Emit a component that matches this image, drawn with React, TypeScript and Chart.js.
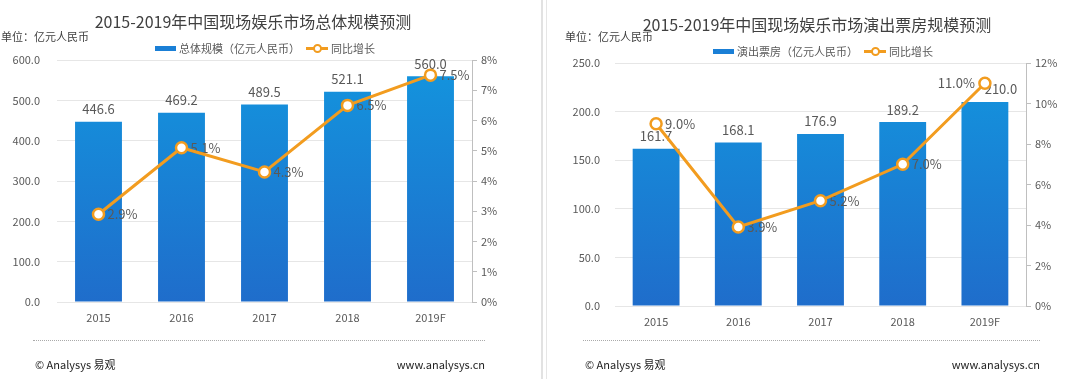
import React, { useEffect, useRef } from 'react';
import { Chart, registerables } from 'chart.js';

Chart.register(...registerables);

const FONT = '"Noto Sans CJK SC", "Noto Sans", sans-serif';

// ---------- data ----------
const categories = ['2015', '2016', '2017', '2018', '2019F'];

const totalMarket = [446.6, 469.2, 489.5, 521.1, 560.0];
const totalGrowth = [2.9, 5.1, 4.3, 6.5, 7.5];

const boxOffice = [161.7, 168.1, 176.9, 189.2, 210.0];
const boxOfficeGrowth = [9.0, 3.9, 5.2, 7.0, 11.0];

const leftAxisA = { max: 600, step: 100 };
const rightAxisA = { max: 8, step: 1 };
const leftAxisB = { max: 250, step: 50 };
const rightAxisB = { max: 12, step: 2 };

const titleA = '2015-2019年中国现场娱乐市场总体规模预测';
const titleB = '2015-2019年中国现场娱乐市场演出票房规模预测';
const barNameA = '总体规模（亿元人民币）';
const barNameB = '演出票房（亿元人民币）';
const lineName = '同比增长';
const unitText = '单位：亿元人民币';
const footLeft = '© Analysys 易观';
const footRight = 'www.analysys.cn';

const BAR_TOP = '#1395de';
const BAR_BOTTOM = '#1f6dcb';
const ORANGE = '#f29c1f';
const TEXT = '#595959';

const labelPlugin = {
  id: 'valueLabels',
  afterDatasetDraw(chart: any, args: any, opts: any) {
    if (args.index !== 0) return;
    const ctx = chart.ctx;
    const barMeta = chart.getDatasetMeta(0);
    const lineMeta = chart.getDatasetMeta(1);
    const bars = chart.data.datasets[0].data;
    const pcts = chart.data.datasets[1].data;
    ctx.save();
    ctx.font = '13px ' + FONT;
    ctx.fillStyle = TEXT;
    barMeta.data.forEach((el: any, i: number) => {
      const dx = (opts.barDx && opts.barDx[i]) || 0;
      ctx.textAlign = 'center';
      ctx.textBaseline = 'bottom';
      ctx.fillText(Number(bars[i]).toFixed(1), el.x + dx, el.y - 6);
    });
    lineMeta.data.forEach((el: any, i: number) => {
      const leftSide = opts.pctLeft && opts.pctLeft[i];
      ctx.textAlign = leftSide ? 'right' : 'left';
      ctx.textBaseline = 'middle';
      ctx.fillText(Number(pcts[i]).toFixed(1) + '%', leftSide ? el.x - 10 : el.x + 9, el.y);
    });
    ctx.restore();
  },
};

type PanelProps = {
  offsetX: number;
  title: string;
  titleCx: number;
  titleCy: number;
  unitX: number;
  legendY: number;
  legendBarX: number;
  legendLineX: number;
  barName: string;
  bars: number[];
  pcts: number[];
  leftAxis: { max: number; step: number };
  rightAxis: { max: number; step: number };
  yWidth: number;
  y1Width: number;
  top: number;
  xHeight: number;
  yPad: number;
  barPct: number;
  barDx?: number[];
  pctLeft?: boolean[];
  footX1: number;
  footX2: number;
};

function Panel(p: PanelProps) {
  const ref = useRef<HTMLCanvasElement>(null);
  useEffect(() => {
    const canvas = ref.current!;
    const chart = new Chart(canvas, {
      type: 'bar',
      data: {
        labels: categories,
        datasets: [
          {
            type: 'bar',
            label: p.barName,
            data: p.bars,
            order: 1,
            yAxisID: 'y',
            categoryPercentage: 1,
            barPercentage: p.barPct,
            backgroundColor: (c: any) => {
              const area = c.chart.chartArea;
              if (!area) return BAR_TOP;
              const g = c.chart.ctx.createLinearGradient(0, area.top, 0, area.bottom);
              g.addColorStop(0, BAR_TOP);
              g.addColorStop(1, BAR_BOTTOM);
              return g;
            },
          } as any,
          {
            type: 'line',
            label: lineName,
            data: p.pcts,
            order: 0,
            yAxisID: 'y1',
            borderColor: ORANGE,
            borderWidth: 3,
            pointRadius: 5.5,
            pointBorderWidth: 2.5,
            pointBackgroundColor: '#ffffff',
            pointBorderColor: ORANGE,
            tension: 0,
          } as any,
        ],
      },
      options: {
        animation: false,
        responsive: false,
        maintainAspectRatio: false,
        layout: { padding: { top: p.top, left: 0, right: 0, bottom: 0 } },
        plugins: {
          legend: { display: false },
          title: { display: false },
          tooltip: { enabled: false },
          valueLabels: { barDx: p.barDx, pctLeft: p.pctLeft },
        } as any,
        scales: {
          x: {
            grid: { display: false, drawTicks: false },
            border: { display: false },
            ticks: { color: TEXT, font: { family: FONT, size: 11 }, padding: 9 },
            afterFit: (s: any) => {
              s.height = p.xHeight;
            },
          },
          y: {
            position: 'left',
            min: 0,
            max: p.leftAxis.max,
            grid: { color: '#e6e6e6', lineWidth: 1, drawTicks: false },
            border: { display: false },
            ticks: {
              stepSize: p.leftAxis.step,
              color: TEXT,
              font: { family: FONT, size: 11 },
              padding: p.yPad,
              callback: (v: any) => Number(v).toFixed(1),
            },
            afterFit: (s: any) => {
              s.width = p.yWidth;
            },
          },
          y1: {
            position: 'right',
            min: 0,
            max: p.rightAxis.max,
            grid: { drawOnChartArea: false, drawTicks: true, tickLength: 5, color: '#bfbfbf' },
            border: { display: true, color: '#bfbfbf' },
            ticks: {
              stepSize: p.rightAxis.step,
              color: TEXT,
              font: { family: FONT, size: 11 },
              padding: 4,
              callback: (v: any) => Number(v) + '%',
            },
            afterFit: (s: any) => {
              s.width = p.y1Width;
            },
          },
        },
      },
      plugins: [labelPlugin as any],
    });
    return () => chart.destroy();
  }, []);

  const abs = (o: any) => ({ position: 'absolute' as const, ...o });
  return (
    <div style={abs({ left: p.offsetX, top: 0, width: 540, height: 379 })}>
      <canvas ref={ref} width={540} height={379} style={abs({ left: 0, top: 0, width: 540, height: 379 })} />
      <div
        style={abs({
          left: p.titleCx - 270,
          width: 540,
          top: p.titleCy - 12,
          height: 24,
          lineHeight: '24px',
          textAlign: 'center',
          fontSize: 16,
          color: '#404040',
          whiteSpace: 'nowrap',
        })}
      >
        {p.title}
      </div>
      <div style={abs({ left: p.unitX, top: 28, height: 16, lineHeight: '16px', fontSize: 11, color: '#404040', whiteSpace: 'nowrap' })}>
        {unitText}
      </div>
      <div style={abs({ left: p.legendBarX, top: p.legendY - 2.5, width: 21, height: 5, background: '#1a7fd6' })} />
      <div style={abs({ left: p.legendBarX + 24, top: p.legendY - 8, height: 16, lineHeight: '16px', fontSize: 11, color: TEXT, whiteSpace: 'nowrap' })}>
        {p.barName}
      </div>
      <div style={abs({ left: p.legendLineX, top: p.legendY - 1.5, width: 22, height: 3, background: ORANGE })} />
      <div
        style={abs({
          left: p.legendLineX + 11 - 4.5,
          top: p.legendY - 4.5,
          width: 5,
          height: 5,
          borderRadius: '50%',
          border: '2px solid ' + ORANGE,
          background: '#fff',
        })}
      />
      <div style={abs({ left: p.legendLineX + 25, top: p.legendY - 8, height: 16, lineHeight: '16px', fontSize: 11, color: TEXT, whiteSpace: 'nowrap' })}>
        {lineName}
      </div>
      <div style={abs({ left: p.footX1, width: p.footX2 - p.footX1, top: 340, height: 0, borderTop: '1px dotted #aaaaaa' })} />
      <div style={abs({ left: p.footX1 + 2, top: 356, height: 16, lineHeight: '16px', fontSize: 11, color: '#222', whiteSpace: 'nowrap' })}>
        {footLeft}
      </div>
      <div
        style={abs({
          left: p.footX2 - 200,
          width: 200,
          textAlign: 'right',
          top: 356,
          height: 16,
          lineHeight: '16px',
          fontSize: 11,
          color: '#222',
          whiteSpace: 'nowrap',
        })}
      >
        {footRight}
      </div>
    </div>
  );
}

export default function App() {
  return (
    <div
      style={{
        position: 'fixed',
        left: 0,
        top: 0,
        width: 1080,
        height: 379,
        background: '#ffffff',
        fontFamily: FONT,
        overflow: 'hidden',
      }}
    >
      <Panel
        offsetX={0}
        title={titleA}
        titleCx={253}
        titleCy={21}
        unitX={1}
        legendY={48}
        legendBarX={155}
        legendLineX={306}
        barName={barNameA}
        bars={totalMarket}
        pcts={totalGrowth}
        leftAxis={leftAxisA}
        rightAxis={rightAxisA}
        yWidth={57}
        y1Width={68}
        top={60}
        xHeight={77}
        yPad={17}
        barPct={0.565}
        footX1={33}
        footX2={485}
      />
      <Panel
        offsetX={540}
        title={titleB}
        titleCx={277}
        titleCy={24}
        unitX={25}
        legendY={51}
        legendBarX={173}
        legendLineX={324}
        barName={barNameB}
        bars={boxOffice}
        pcts={boxOfficeGrowth}
        leftAxis={leftAxisB}
        rightAxis={rightAxisB}
        yWidth={75}
        y1Width={54}
        top={63}
        xHeight={73}
        yPad={15}
        barPct={0.57}
        barDx={[0, 0, 0, 0, 16]}
        pctLeft={[false, false, false, false, true]}
        footX1={43}
        footX2={500}
      />
      <div style={{ position: 'absolute', left: 541, top: 0, width: 2, height: 379, background: '#e2e2e2' }} />
      <div style={{ position: 'absolute', left: 546, top: 0, width: 1, height: 379, background: '#e6e6e6' }} />
    </div>
  );
}
